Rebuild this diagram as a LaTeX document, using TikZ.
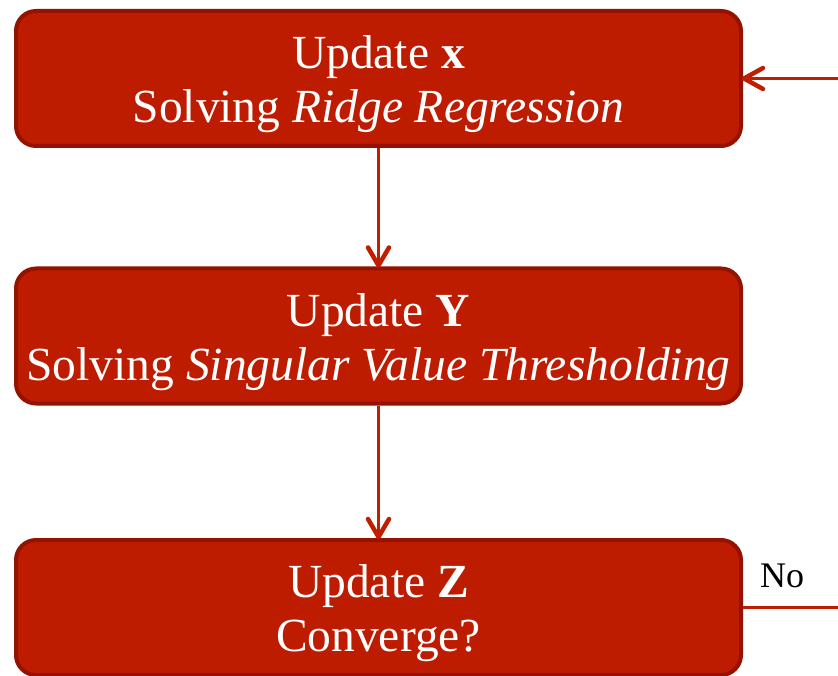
\documentclass[tikz,border=0pt]{standalone}
\usepackage{fontspec}
\setmainfont{Liberation Serif}
\definecolor{boxfill}{HTML}{BE1C00}
\definecolor{boxline}{HTML}{951200}
\definecolor{arrowc}{HTML}{C01E00}
\begin{document}
\begin{tikzpicture}[x=1pt,y=-1pt,
  stepbox/.style={draw=boxline, fill=boxfill, line width=4pt, rounded corners=20pt,
    minimum width=725pt, minimum height=135pt, inner sep=0pt},
  boxtext/.style={inner sep=0pt, text=white, align=center,
    font=\fontsize{47.5}{54}\selectfont},
  plain/.style={draw=arrowc, line width=2.4pt},
  chevron/.style={draw=arrowc, line width=4.5pt, line cap=round, line join=round}
]
\path[use as bounding box] (0,0) rectangle (838,676);
\clip (0,0) rectangle (838,676);
\node[stepbox] (b1) at (378.5,78.5) {};
\node[stepbox] (b2) at (378.5,336) {};
\node[stepbox] (b3) at (378.5,607.5) {};
\node[boxtext] (t1) at ([yshift=-6pt]b1.center) {Update \textbf{x}\\Solving \textit{Ridge Regression}};
\node[boxtext] (t2) at ([yshift=-6pt]b2.center) {Update \textbf{Y}\\Solving \textit{Singular Value Thresholding}};
\node[boxtext] (t3) at ([yshift=-6pt]b3.center) {Update \textbf{Z}\\Converge?};
\coordinate (r1) at (840,78.5);
\coordinate (r3) at (840,607.5);
\draw[plain] (b1) -- (b2);
\draw[plain] (b2) -- (b3);
\draw[plain] (r1) -- (b1.east);
\draw[plain] (b3.east) -- (r3);
\draw[chevron] ([shift={(-10.5,-19)}]b2.north) -- ([yshift=1pt]b2.north) -- ([shift={(10.5,-19)}]b2.north);
\draw[chevron] ([shift={(-10.5,-19)}]b3.north) -- ([yshift=1pt]b3.north) -- ([shift={(10.5,-19)}]b3.north);
\draw[chevron] ([shift={(20,-10.5)}]b1.east) -- ([xshift=1pt]b1.east) -- ([shift={(20,10.5)}]b1.east);
\node[font=\fontsize{36}{40}\selectfont, anchor=base west, inner sep=0pt] (no) at (760,587) {No};
\end{tikzpicture}
\end{document}
